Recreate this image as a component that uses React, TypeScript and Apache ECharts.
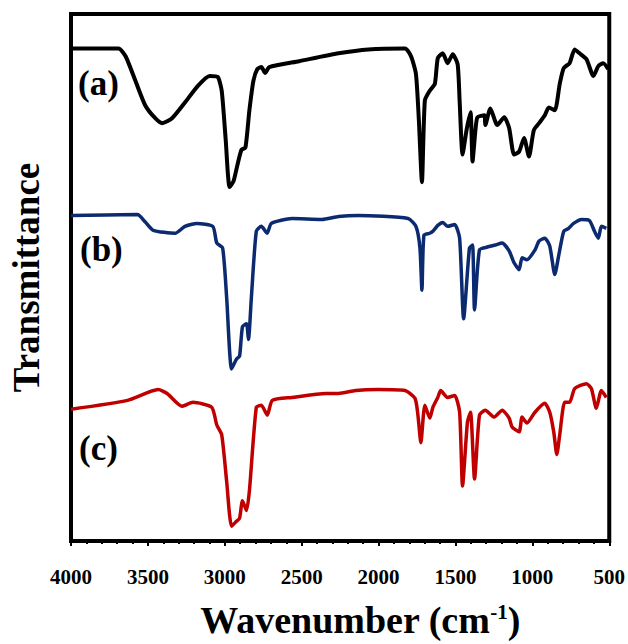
import React, { useEffect, useRef } from "react";
import * as echarts from "echarts";

// Wavenumber ticks (cm-1), x axis runs from 4000 down to 500
const xTicks = [4000, 3500, 3000, 2500, 2000, 1500, 1000, 500];

// Spectrum (a) — black: [wavenumber, transmittance (offset, a.u.)]
const spectrumA: [number, number][] = [
  [4000, 501], [3691, 501], [3645, 493], [3581, 468], [3517, 443], [3452, 430], [3407, 425],
  [3343, 430], [3259, 446], [3175, 463], [3098, 473], [3046, 472], [3020, 458], [2994, 408],
  [2969, 360], [2943, 366], [2917, 383], [2891, 398], [2866, 400], [2840, 438], [2814, 468],
  [2788, 480], [2762, 482], [2737, 476], [2711, 482], [2517, 488], [2260, 496], [2066, 500],
  [1828, 501], [1789, 493], [1757, 475], [1738, 428], [1718, 365], [1699, 448], [1667, 458],
  [1634, 465], [1615, 491], [1583, 496], [1551, 486], [1518, 495], [1486, 485], [1473, 448],
  [1454, 393], [1428, 418], [1402, 436], [1389, 386], [1370, 418], [1357, 431], [1312, 433],
  [1306, 423], [1273, 440], [1228, 423], [1183, 431], [1151, 420], [1119, 393], [1086, 396],
  [1054, 410], [1022, 391], [990, 418], [951, 426], [919, 433], [893, 441], [854, 438],
  [822, 465], [796, 481], [758, 486], [725, 500], [693, 496], [648, 490], [603, 473],
  [571, 483], [539, 486], [506, 480],
];

// Spectrum (b) — navy
const spectrumB: [number, number][] = [
  [4000, 331], [3568, 332], [3520, 325], [3465, 316], [3323, 313], [3259, 320], [3181, 323], [3078, 320],
  [3052, 303], [3014, 298], [2988, 248], [2956, 175], [2924, 185], [2904, 188], [2885, 218],
  [2859, 221], [2846, 205], [2827, 248], [2795, 315], [2762, 320], [2724, 313], [2698, 323],
  [2563, 328], [2369, 327], [2260, 330], [2131, 331], [1808, 328], [1757, 320], [1731, 298],
  [1718, 255], [1705, 311], [1667, 313], [1647, 315], [1615, 321], [1583, 324], [1551, 320],
  [1505, 322], [1473, 308], [1447, 226], [1409, 298], [1389, 301], [1376, 235], [1344, 296],
  [1293, 299], [1241, 301], [1196, 303], [1151, 295], [1119, 283], [1086, 276], [1067, 288],
  [1035, 286], [983, 296], [957, 305], [919, 308], [887, 300], [854, 271], [829, 290],
  [796, 315], [764, 318], [732, 323], [680, 327], [629, 326], [596, 315], [571, 308],
  [551, 320], [519, 318],
];

// Spectrum (c) — red
const spectrumC: [number, number][] = [
  [4000, 134], [3633, 143], [3433, 154], [3375, 150], [3278, 137], [3207, 141], [3085, 136],
  [3052, 118], [3020, 108], [2988, 61], [2956, 15], [2924, 20], [2904, 23], [2885, 41],
  [2859, 31], [2840, 51], [2795, 136], [2762, 138], [2724, 128], [2691, 143], [2563, 146],
  [2343, 150], [2260, 150], [2150, 153], [2002, 154], [1828, 153], [1763, 145], [1744, 128],
  [1725, 100], [1699, 138], [1667, 125], [1647, 136], [1615, 146], [1596, 153], [1551, 146],
  [1505, 148], [1473, 131], [1454, 56], [1422, 121], [1402, 131], [1376, 63], [1344, 128],
  [1306, 133], [1248, 126], [1196, 133], [1151, 125], [1132, 116], [1086, 111], [1067, 126],
  [1035, 120], [983, 131], [919, 140], [887, 131], [861, 111], [841, 88], [822, 108],
  [790, 141], [758, 141], [725, 155], [648, 160], [616, 155], [584, 135], [551, 153],
  [519, 146],
];

const seriesNames = ["(a)", "(b)", "(c)"];
const seriesColors = ["#000000", "#0b2a6f", "#c00000"];

export default function App() {
  const ref = useRef<HTMLDivElement>(null);
  useEffect(() => {
    if (!ref.current) return;
    const chart = echarts.init(ref.current, undefined, { renderer: "svg" });
    const serif = "'Liberation Serif', 'Times New Roman', serif";
    const datasets = [spectrumA, spectrumB, spectrumC];
    chart.setOption({
      animation: false,
      backgroundColor: "#ffffff",
      grid: {
        left: 70,
        right: 14,
        top: 14,
        bottom: 94,
        show: true,
        borderColor: "#000",
        borderWidth: 4,
      },
      xAxis: {
        type: "value",
        inverse: true,
        min: 500,
        max: 4000,
        interval: 500,
        axisLine: { show: true, onZero: false, lineStyle: { color: "#000", width: 4 } },
        axisTick: { show: true, length: 5, lineStyle: { color: "#000", width: 2 } },
        minorTick: { show: true, splitNumber: 5, length: 3, lineStyle: { color: "#000", width: 2 } },
        splitLine: { show: false },
        axisLabel: {
          margin: 25,
          color: "#000",
          fontFamily: serif,
          fontWeight: "bold",
          fontSize: 21,
          formatter: (v: number) => (xTicks.includes(v) ? String(v) : ""),
        },
        name: "Wavenumber (cm{sup|-1})",
        nameLocation: "middle",
        nameGap: 60,
        nameTextStyle: {
          color: "#000",
          fontFamily: serif,
          fontWeight: "bold",
          fontSize: 38,
          padding: [0, 0, 0, 40],
          rich: {
            sup: {
              fontFamily: serif,
              fontWeight: "bold",
              fontSize: 21,
              color: "#000",
              verticalAlign: "top",
              padding: [0, 0, 17, 0],
            },
          },
        },
      },
      yAxis: {
        type: "value",
        min: 0,
        max: 536,
        axisLine: { show: true, lineStyle: { color: "#000", width: 4 } },
        axisTick: { show: false },
        axisLabel: { show: false },
        splitLine: { show: false },
        name: "Transmittance",
        nameLocation: "middle",
        nameRotate: 90,
        nameGap: 26,
        nameTextStyle: {
          color: "#000",
          fontFamily: serif,
          fontWeight: "bold",
          fontSize: 37,
        },
      },
      graphic: [
        { type: "text", left: 78, top: 66, style: { text: seriesNames[0], font: `bold 35px ${serif}`, fill: "#000" } },
        { type: "text", left: 80, top: 232, style: { text: seriesNames[1], font: `bold 35px ${serif}`, fill: "#000" } },
        { type: "text", left: 79, top: 431, style: { text: seriesNames[2], font: `bold 35px ${serif}`, fill: "#000" } },
      ],
      series: datasets.map((d, i) => ({
        name: seriesNames[i],
        type: "line",
        data: d,
        showSymbol: false,
        smooth: 0.2,
        lineStyle: { color: seriesColors[i], width: i === 0 ? 4 : 3.5 },
        itemStyle: { color: seriesColors[i] },
        z: 3 - i,
      })),
    });
    return () => chart.dispose();
  }, []);
  return (
    <div
      ref={ref}
      style={{ position: "fixed", left: 0, top: 0, width: 628, height: 644, background: "#fff" }}
    />
  );
}
